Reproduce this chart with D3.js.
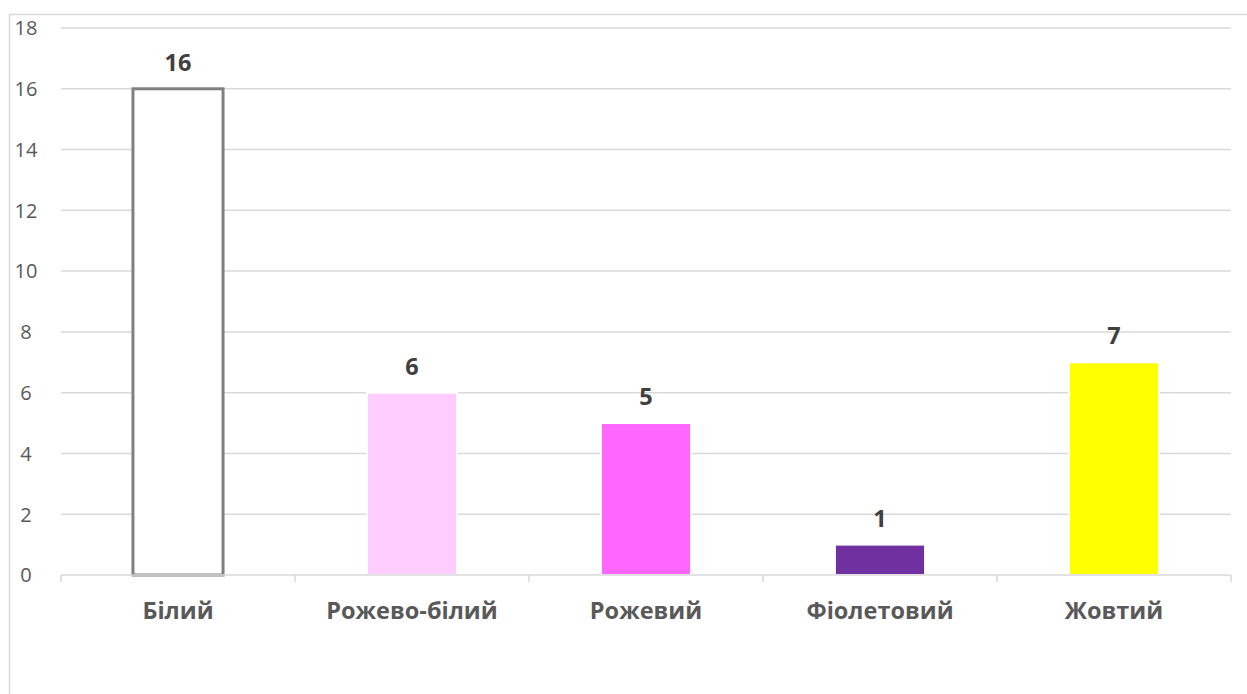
<!DOCTYPE html>
<html>
<head>
<meta charset="utf-8">
<script src="https://cdn.jsdelivr.net/npm/d3@7"></script>
<style>
  html, body { margin: 0; padding: 0; background: #fff; }
  svg { display: block; }
</style>
</head>
<body>
<svg id="chart" width="1247" height="694"></svg>
<script>
// Flower colour counts
const categories = ["Білий", "Рожево-білий", "Рожевий", "Фіолетовий", "Жовтий"];
const values = [16, 6, 5, 1, 7];
const fills = ["#FFFFFF", "#FFCCFF", "#FF66FF", "#7030A0", "#FFFF00"];
const strokes = ["#808080", "#FFFFFF", "#FFFFFF", "#FFFFFF", "#FFFFFF"];
const yTicks = [0, 2, 4, 6, 8, 10, 12, 14, 16, 18];

const svg = d3.select("#chart");
const font = "'Open Sans', 'Liberation Sans', sans-serif";

// chart frame
svg.append("rect")
  .attr("x", 9.5).attr("y", 14.5)
  .attr("width", 1260).attr("height", 700)
  .attr("fill", "none").attr("stroke", "#d9d9d9").attr("stroke-width", 1.5);

const plot = { left: 61, right: 1231, top: 28, bottom: 575 };

const x = d3.scaleBand().domain(categories).range([plot.left, plot.right]).padding(0);
const y = d3.scaleLinear().domain([0, 18]).range([plot.bottom, plot.top]);
const barW = x.bandwidth() * 0.385;

// gridlines
svg.append("g").selectAll("line")
  .data(yTicks.filter(d => d > 0))
  .join("line")
  .attr("x1", plot.left).attr("x2", plot.right)
  .attr("y1", d => y(d)).attr("y2", d => y(d))
  .attr("stroke", "#d9d9d9").attr("stroke-width", 1.5);

// y-axis labels
const yAxis = svg.append("g")
  .attr("transform", `translate(${plot.left},0)`)
  .call(d3.axisLeft(y).tickValues(yTicks).tickSize(0));
yAxis.select(".domain").remove();
yAxis.selectAll("text")
  .attr("fill", "#595959").attr("font-family", font).attr("font-size", 20)
  .attr("text-anchor", "middle").attr("x", -35).attr("dy", "0.34em");

// bars
svg.append("g").selectAll("rect")
  .data(categories)
  .join("rect")
  .attr("x", (d, i) => x(d) + (x.bandwidth() - barW) / 2)
  .attr("y", (d, i) => y(values[i]))
  .attr("width", barW)
  .attr("height", (d, i) => y(0) - y(values[i]))
  .attr("fill", (d, i) => fills[i])
  .attr("stroke", (d, i) => strokes[i])
  .attr("stroke-width", (d, i) => i === 0 ? 3 : 2);

// x axis line with tick marks
const xAxis = svg.append("g")
  .attr("transform", `translate(0,${plot.bottom})`);
xAxis.append("line")
  .attr("x1", plot.left).attr("x2", plot.right)
  .attr("stroke", "#d9d9d9").attr("stroke-width", 1.5);
xAxis.selectAll("line.tick")
  .data(categories.map(c => x(c)).concat([plot.right]))
  .join("line").attr("class", "tick")
  .attr("x1", d => d).attr("x2", d => d)
  .attr("y1", 0).attr("y2", 7)
  .attr("stroke", "#d9d9d9").attr("stroke-width", 1.5);

// category labels
svg.append("g").selectAll("text")
  .data(categories)
  .join("text")
  .attr("x", d => x(d) + x.bandwidth() / 2)
  .attr("y", 619)
  .attr("text-anchor", "middle")
  .attr("fill", "#595959").attr("font-family", font)
  .attr("font-size", 23.5).attr("font-weight", "bold")
  .text(d => d);

// value labels
svg.append("g").selectAll("text")
  .data(categories)
  .join("text")
  .attr("x", d => x(d) + x.bandwidth() / 2)
  .attr("y", (d, i) => y(values[i]) - 18)
  .attr("text-anchor", "middle")
  .attr("fill", "#404040").attr("font-family", font)
  .attr("font-size", 23.5).attr("font-weight", "bold")
  .text((d, i) => values[i]);
</script>
</body>
</html>
